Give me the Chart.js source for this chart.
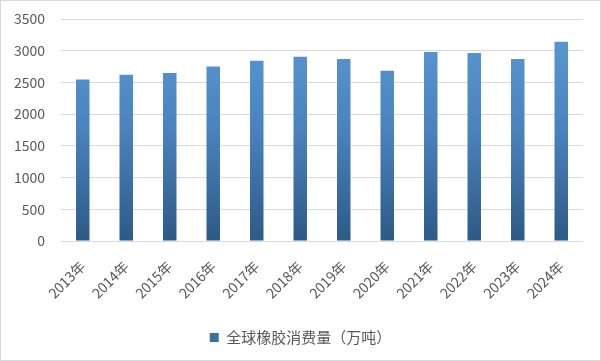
<!DOCTYPE html>
<html><head><meta charset="utf-8">
<script src="https://cdn.jsdelivr.net/npm/chart.js@4/dist/chart.umd.min.js"></script>
<style>
html,body{margin:0;padding:0;background:#fff;}
#wrap{position:absolute;left:0;top:0;width:601px;height:361px;box-sizing:border-box;border:1px solid #d9d9d9;}
canvas{display:block;}
</style></head><body>
<div id="wrap"><canvas id="c" width="599" height="359"></canvas></div>
<script>
const categories = ['2013年','2014年','2015年','2016年','2017年','2018年','2019年','2020年','2021年','2022年','2023年','2024年'];
const consumption = [2545, 2620, 2650, 2750, 2840, 2905, 2870, 2685, 2980, 2965, 2870, 3140];
const seriesName = '全球橡胶消费量（万吨）';
const yTicks = [0, 500, 1000, 1500, 2000, 2500, 3000, 3500];

const FONT = '"Noto Sans CJK SC", "Noto Sans", sans-serif';
function barGradient(ctx){
  const chart = ctx.chart; const a = chart.chartArea;
  if(!a) return '#4a86c5';
  const g = chart.ctx.createLinearGradient(0, a.top, 0, a.bottom);
  g.addColorStop(0, '#5b9bd5');
  g.addColorStop(0.5, '#4a82bd');
  g.addColorStop(1, '#2d5a87');
  return g;
}
new Chart(document.getElementById('c'), {
  type: 'bar',
  data: { labels: categories, datasets: [{ label: seriesName, data: consumption, backgroundColor: barGradient, borderWidth: 0, barPercentage: 0.31, categoryPercentage: 1 }] },
  options: {
    responsive: false, animation: false,
    layout: { padding: { left: 0, right: 0, top: 18, bottom: 5 } },
    plugins: {
      legend: { position: 'bottom', labels: { color: '#595959', font: { family: FONT, size: 15 }, boxWidth: 9, boxHeight: 9, padding: 10, generateLabels: (chart) => [{ text: seriesName, fillStyle: '#3a6ea5', strokeStyle: '#3a6ea5', lineWidth: 0, fontColor: '#595959', datasetIndex: 0 }] } },
      tooltip: { enabled: false }
    },
    scales: {
      x: { grid: { display: false }, border: { display: false },
           afterFit: (s) => { s.height = 79; s.paddingLeft = 0; s.paddingRight = 17; },
           ticks: { color: '#595959', font: { family: FONT, size: 14 }, minRotation: 45, maxRotation: 45, padding: 9 } },
      y: { min: 0, max: 3500, afterBuildTicks: (s) => { s.ticks = yTicks.map(v => ({ value: v })); },
           afterFit: (s) => { s.width = 60; s.paddingTop = 0; s.paddingBottom = 0; },
           grid: { color: '#d9d9d9', drawTicks: false }, border: { display: false },
           ticks: { color: '#595959', font: { family: FONT, size: 14 }, padding: 16, callback: (v) => String(v) } }
    }
  }
});
</script></body></html>
